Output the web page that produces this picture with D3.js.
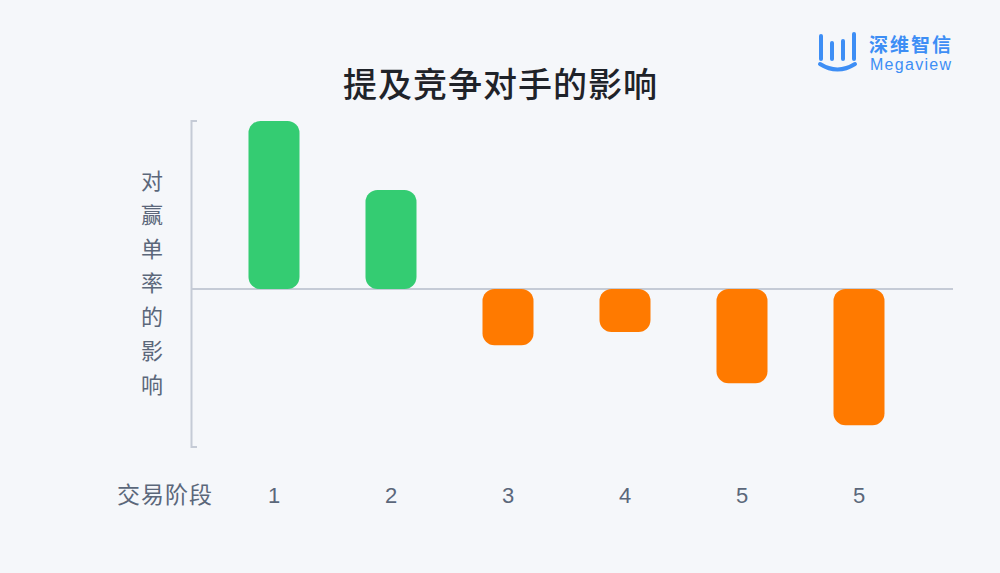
<!DOCTYPE html>
<html><head><meta charset="utf-8">
<script src="https://cdn.jsdelivr.net/npm/d3@7"></script>
<style>html,body{margin:0;padding:0;background:#F5F7FA;}svg{display:block;}</style>
</head><body>
<svg id="chart" width="1000" height="573"></svg>
<script>
const titleText = "提及竞争对手的影响";
const yLabel = "对赢单率的影响";
const xLabel = "交易阶段";
const categories = ["1","2","3","4","5","5"];
const values = [50, 29.5, -16.7, -12.8, -28, -40.5];
const yDomain = [-47, 50];

const svg = d3.select("#chart");
svg.append("rect").attr("width",1000).attr("height",573).attr("fill","#F5F7FA");

const font = "'PingFang SC','Noto Sans CJK SC','Noto Sans',sans-serif";
const numFont = "'Helvetica Neue','Liberation Sans',Arial,sans-serif";

const x = d3.scaleBand().domain(d3.range(categories.length)).range([215.5, 917.5])
  .paddingInner(0.564).paddingOuter(0.282);
const y = d3.scaleLinear().domain(yDomain).range([447, 121]);

// title
svg.append("text").attr("x",500).attr("y",97).attr("text-anchor","middle")
  .attr("font-family",font).attr("font-size",34).attr("font-weight",500)
  .attr("fill","#1F2329").attr("textLength",314).attr("lengthAdjust","spacing").text(titleText);

// y axis bracket
const axisColor = "#C5CBD6";
svg.append("path")
  .attr("d",`M${197},${y(yDomain[1])}H${191.5}V${y(yDomain[0])}H${197}`)
  .attr("fill","none").attr("stroke",axisColor).attr("stroke-width",2);
// zero line
svg.append("line").attr("x1",191).attr("x2",953).attr("y1",y(0)).attr("y2",y(0))
  .attr("stroke",axisColor).attr("stroke-width",2);

// bars
svg.append("g").selectAll("rect").data(values).join("rect")
  .attr("x",(d,i)=>x(i)).attr("width",x.bandwidth())
  .attr("y",d=>y(Math.max(0,d))).attr("height",d=>Math.abs(y(d)-y(0)))
  .attr("rx",12).attr("ry",12)
  .attr("fill",d=>d>=0?"#34CC72":"#FF7A00");

// x tick labels
svg.append("g").selectAll("text").data(categories).join("text")
  .attr("x",(d,i)=>x(i)+x.bandwidth()/2).attr("y",503).attr("text-anchor","middle")
  .attr("font-family",numFont).attr("font-size",22).attr("fill","#5B677A").text(d=>d);

svg.append("text").attr("x",117).attr("y",503)
  .attr("font-family",font).attr("font-size",23).attr("fill","#5B677A")
  .attr("textLength",95).text(xLabel);

// y label vertical
svg.append("g").selectAll("text").data(Array.from(yLabel)).join("text")
  .attr("x",152).attr("y",(d,i)=>189+i*34).attr("text-anchor","middle")
  .attr("font-family",font).attr("font-size",22).attr("fill","#5B677A").text(d=>d);

// logo
const blue = "#3D8EF5";
const logo = svg.append("g");
const barsLogo = [[821,36,59],[832,43,59],[843,41,59],[854,34,59]];
barsLogo.forEach(b=>logo.append("line").attr("x1",b[0]).attr("x2",b[0]).attr("y1",b[1]).attr("y2",b[2])
  .attr("stroke",blue).attr("stroke-width",4).attr("stroke-linecap","round"));
logo.append("path").attr("d","M820,64 Q837.5,75 855,64").attr("fill","none")
  .attr("stroke",blue).attr("stroke-width",4).attr("stroke-linecap","round");
logo.append("text").attr("x",869).attr("y",52).attr("font-family",font).attr("font-size",19)
  .attr("font-weight",600).attr("fill",blue).attr("textLength",82).text("深维智信");
logo.append("text").attr("x",870).attr("y",70).attr("font-family",numFont).attr("font-size",16)
  .attr("fill",blue).attr("textLength",81).text("Megaview");
</script>
</body></html>
